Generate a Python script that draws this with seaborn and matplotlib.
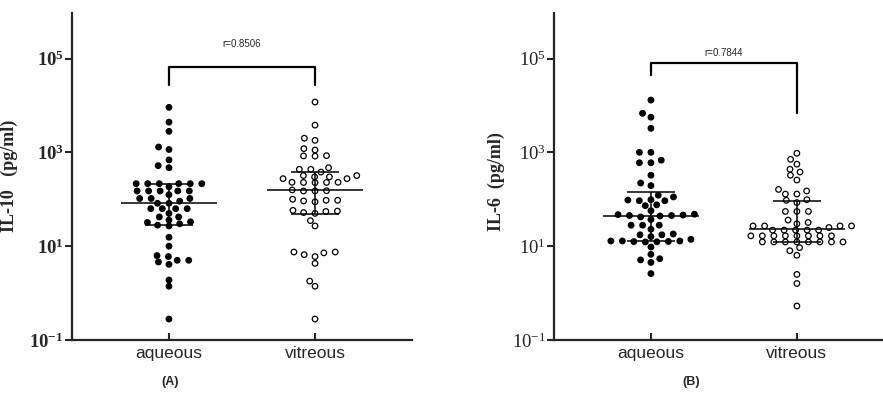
import numpy as np
import pandas as pd
import matplotlib
matplotlib.use("Agg")
import matplotlib.pyplot as plt
import seaborn as sns

# ---- data (pg/ml) ----
groups = ["aqueous", "vitreous"]

il10_aqueous = [9100, 4400, 2800, 1300, 1150, 690, 520, 470,
                185, 215, 215, 215, 215, 215, 215,
                150, 150, 150, 150, 150, 125, 104, 104, 104, 82, 91, 82,
                63, 63, 63, 63, 50, 42, 36, 42, 33, 32, 30, 27, 28,
                15.5, 10, 5, 5, 6, 4.1, 6.3, 4.6, 1.9, 1.4, 0.28]
il10_vitreous = [11800, 3800, 1800, 2000, 1200, 1120, 850, 840, 830,
                 470, 435, 435, 380,
                 275, 320, 300, 300, 320, 275,
                 230, 228, 226, 230, 228,
                 158, 150, 152, 150,
                 100, 95, 92, 88, 95,
                 55, 52, 56, 50, 58,
                 35, 27,
                 6.6, 7.2, 6.0, 7.5, 7.5,
                 4.3, 1.8, 1.4, 0.28]

il6_aqueous = [13000, 5600, 6800, 3250, 1000, 1000, 600, 680, 600, 325, 195, 222,
               122, 93, 98, 112, 73, 76, 96, 93, 57,
               46, 47, 45, 44, 42, 45, 48,
               37, 28, 28, 28, 23, 17.5, 17.5,
               18.2, 12.9, 12.9, 16, 12.3, 12.5, 12.6, 9.6, 12.4, 12.9, 14,
               5.1, 5.4, 6.7, 4.5, 2.6]
il6_vitreous = [955, 710, 560, 380, 436, 325, 257, 162, 150, 129, 129, 98, 95, 85,
                55, 55, 55, 36,
                32, 30, 27, 27, 27, 27, 25,
                22, 22, 22, 22, 22,
                16.6, 16.6, 16.6, 16.6, 16.6, 16.6, 16.6, 16.6,
                12.3, 12.3, 12.3, 12.3, 12.3, 12.3, 12.3, 12.3,
                8, 9.3, 6.4, 2.5, 1.6, 0.53]

# median and interquartile range as drawn
il10_median = [82, 158]
il10_q1 = [28, 49]
il10_q3 = [215, 390]
il6_median = [45, 23.4]
il6_q1 = [12.9, 12.5]
il6_q3 = [141, 91]

r_labels = ["r=0.8506", "r=0.7844"]
ylabels = ["IL-10   (pg/ml)", "IL-6  (pg/ml)"]
panel_labels = ["(A)", "(B)"]
tick_exps = [-1, 1, 3, 5]


def long_df(a, v):
    return pd.DataFrame({
        "group": ["aqueous"] * len(a) + ["vitreous"] * len(v),
        "value": list(a) + list(v),
    })


sns.set_style("ticks")
plt.rcParams["font.family"] = ["Liberation Sans", "DejaVu Sans"]
plt.rcParams["mathtext.fontset"] = "custom"
plt.rcParams["mathtext.rm"] = "Liberation Serif"
plt.rcParams["mathtext.it"] = "Liberation Serif:italic"
plt.rcParams["mathtext.bf"] = "Liberation Serif:bold"

fig = plt.figure(figsize=(8.83, 4.07), dpi=100)
ax1 = fig.add_axes([72 / 883, 1 - 340 / 407, 340 / 883, 327 / 407])
ax2 = fig.add_axes([554 / 883, 1 - 340 / 407, 328 / 883, 327 / 407])

palette = {"aqueous": "black", "vitreous": "white"}
ylim = (0.1, 10 ** 5.97)
stretch = 1.9  # y stretch used only while the swarm is laid out

panels = [
    (ax1, il10_aqueous, il10_vitreous, il10_median, il10_q1, il10_q3,
     (-0.664, 1.664), True, (4.82, 4.44, 4.44), 5.31),
    (ax2, il6_aqueous, il6_vitreous, il6_median, il6_q1, il6_q3,
     (-0.664, 1.583), False, (4.91, 4.65, 3.84), 5.12),
]

for i, (ax, a, v, med, q1, q3, xlim, bold, brk, rtext) in enumerate(panels):
    df = long_df(a, v)
    sns.swarmplot(data=df, x="group", y="value", hue="group", order=groups,
                  hue_order=groups, palette=palette, edgecolor="black",
                  linewidth=0.9, size=7.0, log_scale=True, legend=False, ax=ax)
    ax.set_xlim(*xlim)

    xs = np.arange(len(groups))
    ax.hlines(med, xs - 0.33, xs + 0.33, color="black", lw=1.1, zorder=4)
    ax.hlines(q1, xs - 0.165, xs + 0.165, color="black", lw=1.1, zorder=4)
    ax.hlines(q3, xs - 0.165, xs + 0.165, color="black", lw=1.1, zorder=4)
    ax.vlines(xs, q1, q3, color="black", lw=1.1, zorder=4)

    # bracket with correlation
    top, leg_l, leg_r = brk
    ax.plot([0, 0, 1, 1], [10 ** leg_l, 10 ** top, 10 ** top, 10 ** leg_r],
            color="black", lw=1.6, clip_on=False)
    ax.text(0.5, 10 ** rtext, r_labels[i], ha="center", va="center", fontsize=7)

    ticks = [10.0 ** e for e in tick_exps]
    if bold:
        tl = [r"$\mathbf{10^{%d}}$" % e for e in tick_exps]
    else:
        tl = [r"$\mathrm{10^{%d}}$" % e for e in tick_exps]
    ax.set_yticks(ticks, tl)
    ax.yaxis.set_minor_locator(matplotlib.ticker.NullLocator())
    ax.tick_params(axis="y", direction="out", length=5, width=1.5,
                   labelsize=13.5, pad=1)
    ax.tick_params(axis="x", direction="in", length=5, width=1.5,
                   labelsize=12.5, pad=4)
    ax.set_xlabel("")
    ax.set_ylabel(ylabels[i], fontfamily="Liberation Serif", fontweight="bold",
                  fontsize=13)
    sns.despine(ax=ax)
    for s in ["left", "bottom"]:
        ax.spines[s].set_linewidth(1.6)

    # stretched y range for the swarm layout pass
    lo, hi = np.log10(ylim)
    ax.set_ylim(ylim[0], 10 ** (lo + (hi - lo) / stretch))

ax1.yaxis.set_label_coords(-0.159, 0.503)
ax2.yaxis.set_label_coords(-0.149, 0.486)

fig.text(170 / 883, 1 - 382 / 407, panel_labels[0], ha="center", va="center",
         fontsize=9, fontweight="bold")
fig.text(691 / 883, 1 - 382 / 407, panel_labels[1], ha="center", va="center",
         fontsize=9, fontweight="bold")

# lay out the swarm (wide spacing, stretched rows), then freeze it,
# restore the real y range and shrink the dots (GraphPad look)
fig.canvas.draw()
for ax in (ax1, ax2):
    for coll in ax.collections:
        if "draw" in coll.__dict__:
            del coll.draw
            coll.set_sizes([4.0 ** 2])
    ax.set_ylim(*ylim)

fig.savefig("out.png", dpi=100)
